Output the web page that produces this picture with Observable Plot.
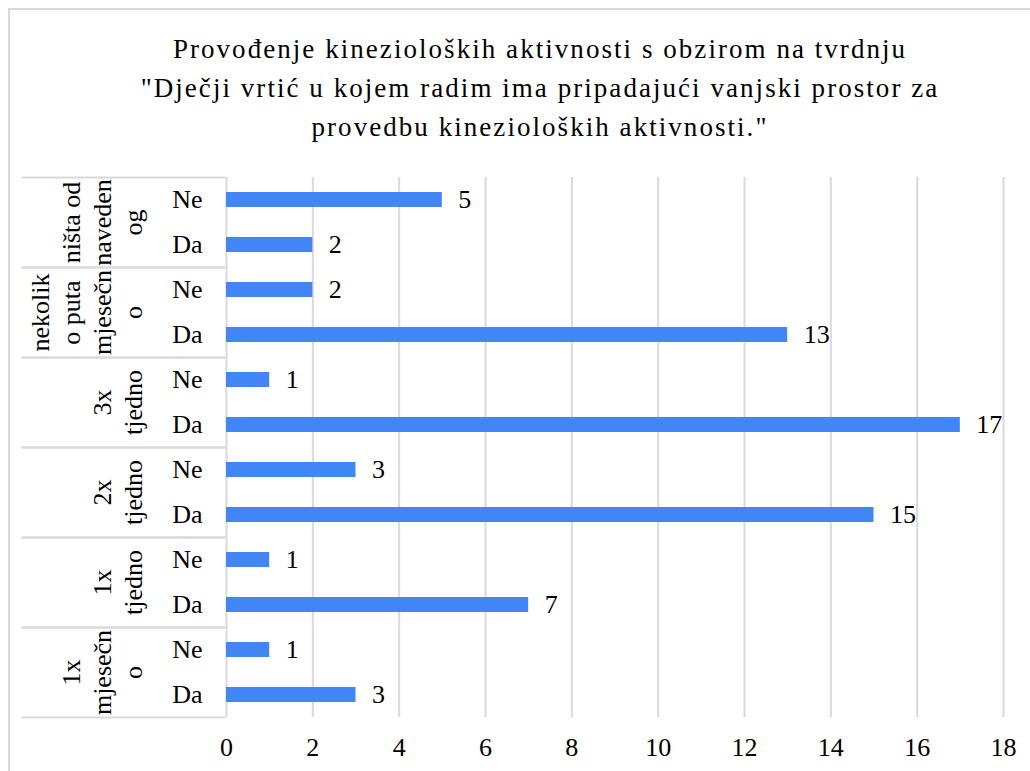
<!DOCTYPE html>
<html>
<head>
<meta charset="utf-8">
<script src="https://cdn.jsdelivr.net/npm/d3@7"></script>
<script src="https://cdn.jsdelivr.net/npm/@observablehq/plot@0.6"></script>
<style>
  html, body { margin: 0; padding: 0; background: #fff; overflow: hidden; width: 1030px; height: 771px; font-family: 'Liberation Serif'; }
  #border { position: absolute; left: 8px; top: 8px; width: 1100px; height: 900px; border: 2px solid #d9d9d9; box-sizing: border-box; }
  #title { position: absolute; left: 0; top: 30px; width: 1080px; text-align: center;
    font-family: 'Liberation Serif'; font-size: 27px; letter-spacing: 2.05px; line-height: 39px; color: #000; }
  #chart { position: absolute; left: 0; top: 150px; }
</style>
</head>
<body>
<div id="border"></div>
<div id="title">Provođenje kinezioloških aktivnosti s obzirom na tvrdnju<br>"Dječji vrtić u kojem radim ima pripadajući vanjski prostor za<br>provedbu kinezioloških aktivnosti."</div>
<div id="chart"></div>
<script>
// Groups, top to bottom
const groups = ["ništa od navedenog", "nekoliko puta mjesečno", "3x tjedno", "2x tjedno", "1x tjedno", "1x mjesečno"];
// Wrapped group labels as shown
const groupLabels = ["ništa od\nnaveden\nog", "nekolik\no puta\nmjesečn\no", "3x\ntjedno", "2x\ntjedno", "1x\ntjedno", "1x\nmjesečn\no"];
const answers = ["Ne", "Da"];
const neValues = [5, 2, 1, 3, 1, 1];
const daValues = [2, 13, 17, 15, 7, 3];
const xTicks = [0, 2, 4, 6, 8, 10, 12, 14, 16, 18];

const data = [];
groups.forEach((g, i) => {
  data.push({group: g, answer: "Ne", value: neValues[i]});
  data.push({group: g, answer: "Da", value: daValues[i]});
});
const groupRows = groups.map((g, i) => ({group: g, label: groupLabels[i]}));

const lineColor = "#d9d9d9";
const frameW = 1003 - 226;

const chart = Plot.plot({
  width: 1030,
  height: 621,
  marginLeft: 226,
  marginRight: 27,
  marginTop: 24,
  marginBottom: 52,
  style: {fontFamily: "Liberation Serif", fontSize: "26px", color: "#000", background: "transparent"},
  x: {domain: [0, 18], axis: null},
  y: {domain: answers, paddingInner: 0.67, paddingOuter: 0.335, axis: null},
  fy: {domain: groups, padding: 0, axis: null},
  marks: [
    Plot.ruleX(xTicks, {x: d => d, stroke: lineColor, strokeWidth: 2}),
    Plot.frame({anchor: "top", insetLeft: -204, insetRight: frameW + 2, stroke: lineColor, strokeWidth: 2}),
    Plot.frame({anchor: "bottom", insetLeft: -204, insetRight: frameW + 2, stroke: lineColor, strokeWidth: 2}),
    Plot.barX(data, {x: "value", y: "answer", fy: "group", fill: "#4285F4"}),
    Plot.text(data, {x: "value", y: "answer", fy: "group", text: d => String(d.value), textAnchor: "start", dx: 16, fill: "#000"}),
    Plot.axisY({tickSize: 0, tickPadding: 24, label: null, fill: "#000"}),
    Plot.axisX({ticks: xTicks, tickSize: 0, tickPadding: 20, label: null, fill: "#000"}),
    Plot.text(groupRows, {fy: "group", text: "label", frameAnchor: "left", dx: -85, rotate: -90, textAnchor: "middle", lineAnchor: "bottom", lineHeight: 1.19, fill: "#000"})
  ]
});
document.getElementById("chart").appendChild(chart);
</script>
</body>
</html>
